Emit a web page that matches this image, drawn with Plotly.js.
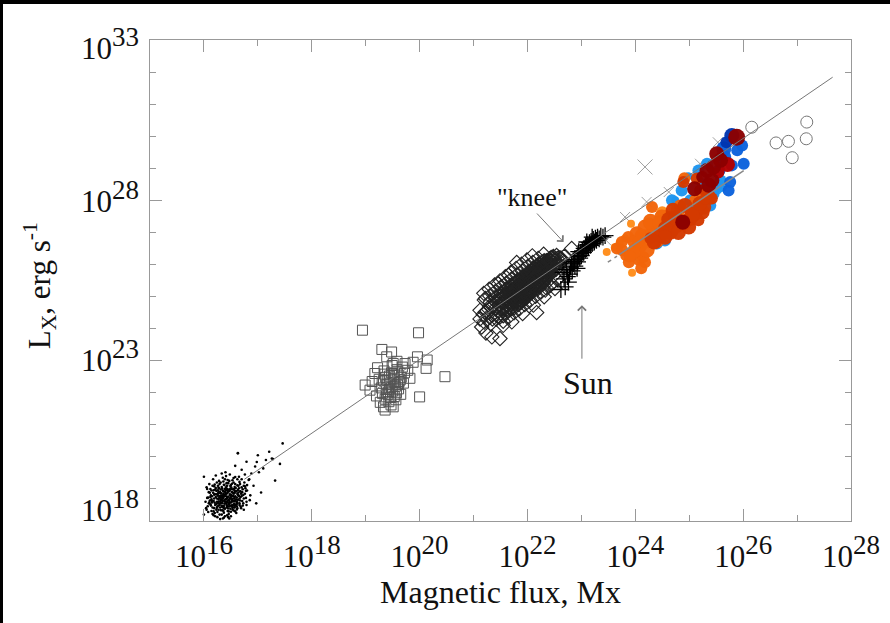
<!DOCTYPE html>
<html>
<head>
<meta charset="utf-8">
<script src="https://cdn.plot.ly/plotly-3.0.1.min.js"></script>
<style>
html,body{margin:0;padding:0;background:#000;width:890px;height:623px;overflow:hidden;}
#chart{position:absolute;left:3px;top:4px;width:887px;height:619px;background:#fff;}
</style>
</head>
<body>
<div id="chart"></div>
<script>
// ---- Data (log10 values) ----
// Quiet-Sun X-ray bright points (small dots)
const dotsLogFlux = [16.42,16.35,16.51,16.28,16.60,16.19,16.47,16.38,16.55,16.31,16.44,16.66,16.23,16.49,16.37,16.58,16.12,16.41,16.33,16.72,16.26,16.46,16.53,16.39,16.15,16.62,16.44,16.30,16.57,16.21,16.48,16.36,16.68,16.27,16.52,16.09,16.43,16.34,16.61,16.40,16.24,16.50,16.76,16.18,16.45,16.32,16.59,16.29,16.54,16.41,16.14,16.47,16.37,16.64,16.22,16.49,16.35,16.56,16.26,16.43,16.70,16.11,16.39,16.52,16.30,16.58,16.20,16.45,16.33,16.62,16.28,16.50,16.38,16.16,16.55,16.42,16.25,16.67,16.36,16.48,16.07,16.40,16.53,16.31,16.60,16.23,16.46,16.34,16.57,16.19,16.44,16.73,16.29,16.51,16.37,16.63,16.13,16.49,16.32,16.41,16.56,16.27,16.45,16.65,16.21,16.39,16.54,16.30,16.47,16.17,16.60,16.35,16.43,16.25,16.52,16.69,16.38,16.10,16.48,16.33,16.58,16.22,16.44,16.36,16.55,16.28,16.62,16.41,16.19,16.50,16.34,16.74,16.26,16.46,16.57,16.31,16.40,16.15,16.53,16.37,16.64,16.24,16.49,16.32,16.58,16.20,16.44,16.67,16.29,16.52,16.39,16.08,16.47,16.35,16.61,16.23,16.43,16.56,16.27,16.42,16.05,16.78,16.18,16.66,16.12,16.80,16.03,16.71,16.30,16.55,
16.06,16.10,16.14,16.17,16.20,16.22,16.25,16.28,16.30,16.33,16.35,16.38,16.40,16.43,16.45,16.48,16.50,16.53,16.55,16.58,16.60,16.63,16.65,16.68,16.70,16.73,16.75,16.78,16.80,16.83,16.85,16.08,16.11,16.13,16.16,16.18,16.21,16.23,16.26,16.29,16.31,16.34,16.36,16.39,16.42,16.44,16.46,16.49,16.51,16.54,16.57,16.59,16.61,16.64,16.66,16.69,16.71,16.74,16.77,16.15,16.19,16.24,16.27,16.32,16.35,16.37,16.41,16.45,16.47,16.52,16.56,16.60,16.62,16.66,16.70,16.12,16.16,16.24,16.28,16.33,16.38,16.43,16.47,16.50,16.54,16.58,16.62,16.67,16.72,16.76,16.09,16.20,16.26,16.31,16.36,16.40,16.46,16.51,16.55,16.61,16.65,16.06,16.18,16.29,16.39,16.48,16.57,16.68,16.79,16.04,16.14,16.27,16.34,16.42,16.52,16.63,16.74,
16.00,16.63,17.21,17.46,17.32,17.06,16.79,17.26,17.10,16.79,17.28,17.41,16.63,16.88,16.95,16.84,16.92,17.02,16.70,16.58,16.98,17.15,16.86,16.76,17.00,16.97,16.05,16.00];
const dotsLogLx = [18.85,18.62,19.04,18.71,18.93,18.40,18.55,19.12,18.70,18.98,18.31,19.22,18.83,18.79,18.47,19.37,18.52,19.05,18.20,18.99,19.10,18.66,18.41,18.91,18.77,18.58,19.28,18.55,18.87,18.15,18.97,18.74,18.75,18.35,19.16,18.90,18.44,19.01,18.46,18.68,18.60,18.82,19.08,18.96,18.12,18.86,19.03,18.50,18.62,19.40,18.31,18.93,18.26,18.89,19.03,18.48,18.95,18.53,18.79,18.72,19.30,18.64,18.38,18.99,18.42,18.77,18.57,19.18,18.66,19.11,18.90,18.29,18.81,18.22,18.85,18.59,18.45,18.64,19.23,18.71,18.46,18.97,18.36,18.74,18.67,18.94,18.52,18.33,19.06,18.70,18.88,18.81,19.15,18.58,18.10,18.97,18.80,19.09,18.57,18.77,18.43,18.67,18.39,19.02,18.50,19.30,18.78,18.87,18.63,18.88,18.52,18.70,19.00,18.28,18.90,18.85,18.54,18.58,18.83,19.06,18.65,18.75,18.47,18.92,19.20,18.61,18.40,18.68,19.08,18.75,18.44,18.70,18.96,18.22,18.94,18.34,18.84,18.62,18.69,19.13,18.80,18.41,19.01,18.79,18.48,18.84,18.58,18.93,18.72,18.49,18.60,18.73,19.25,18.80,18.73,18.53,18.95,18.61,19.04,18.42,18.35,18.94,18.18,18.55,19.00,19.12,18.60,18.62,18.06,19.34,
18.72,19.15,18.95,19.30,18.25,19.42,18.12,19.25,18.90,19.48,18.08,18.65,19.52,18.18,18.92,19.45,18.15,19.27,18.33,19.15,18.25,18.82,19.38,18.45,19.05,18.55,19.20,18.72,18.95,19.28,18.65,18.28,18.88,18.48,19.10,18.62,18.98,18.35,18.85,18.20,19.20,18.56,18.85,18.15,19.18,18.64,18.98,18.38,18.80,18.50,18.72,18.92,18.36,19.10,18.70,18.40,18.90,18.35,19.02,18.58,18.82,19.20,18.48,18.68,19.35,18.40,18.55,18.76,18.08,18.62,19.00,18.60,19.30,18.50,18.78,18.75,18.42,18.70,19.02,18.48,18.78,19.10,18.45,19.12,18.88,18.30,18.85,19.15,18.48,18.85,18.55,19.14,18.56,18.62,18.32,18.88,18.30,18.68,18.98,18.54,18.78,19.00,18.30,18.78,19.00,18.58,18.42,18.92,18.50,18.40,18.68,18.90,18.75,18.50,18.45,18.66,19.10,
19.38,20.11,20.16,20.42,19.26,18.89,18.60,19.95,19.64,19.85,19.93,19.78,20.12,19.48,19.70,19.30,19.10,19.52,19.60,19.72,19.84,19.90,18.80,19.45,20.05,18.55,19.05,18.20];

// Ephemeral regions (open squares)
const sqLogFlux = [18.94,19.98,20.47,20.00,19.30,19.48,19.96,20.14,20.12,19.39,19.51,19.73,19.17,18.99,19.08,19.33,19.51,19.36,19.82,
19.45,19.52,19.38,19.60,19.41,19.55,19.33,19.48,19.62,19.36,19.50,19.44,19.58,19.29,19.53,19.40,19.66,19.47,19.35,19.57,19.43,19.68,19.31,19.49,19.61,19.25,19.54,19.39,19.72,19.46,19.34,19.59,19.42,19.51,19.27,19.64,19.37,19.56,19.44,19.70,
19.20,19.78,19.22,19.65,19.88,19.12,19.47,19.58];
const sqLogLx = [23.95,23.87,22.50,21.87,23.35,23.27,23.12,23.02,22.76,23.12,22.91,22.91,22.60,22.24,22.08,21.56,21.56,21.46,22.45,
22.30,22.45,22.10,22.55,21.95,22.20,22.38,22.62,22.35,21.80,22.05,22.52,22.72,22.15,21.88,22.40,22.48,22.18,22.58,22.00,21.72,22.80,21.98,22.85,22.12,22.42,22.32,22.25,22.62,21.85,22.68,22.25,22.02,22.58,21.70,22.40,22.48,21.78,22.12,22.30,
21.90,22.70,22.78,21.95,22.95,22.35,21.62,22.98];

// Active regions (open diamonds)
const dmLogFlux = [21.12,21.15,21.18,21.20,21.22,21.25,21.28,21.30,21.32,21.35,21.37,21.40,21.42,21.44,21.46,21.48,21.50,21.52,21.54,21.55,21.57,21.58,21.60,21.61,21.63,21.64,21.66,21.67,21.69,21.70,21.71,21.73,21.74,21.75,21.77,21.78,21.79,21.80,21.81,21.82,21.84,21.85,21.86,21.87,21.88,21.89,21.90,21.91,21.92,21.93,21.94,21.95,21.96,21.97,21.98,21.99,22.00,22.01,22.02,22.03,22.04,22.05,22.06,22.07,22.08,22.09,22.10,22.11,22.12,22.13,22.14,22.15,22.16,22.17,22.18,22.19,22.20,22.21,22.22,22.23,22.24,22.25,22.26,22.27,22.28,22.29,22.30,22.31,22.32,22.33,22.34,22.35,22.36,22.37,22.38,22.39,22.40,22.42,22.43,22.44,22.45,22.47,22.48,22.50,22.52,22.53,22.55,22.57,22.59,22.62,22.65,22.68,
21.85,21.95,22.05,22.15,21.75,22.25,21.90,22.00,22.10,22.20,21.80,21.70,22.30,22.35,21.65,21.60,21.98,22.08,22.18,21.88,21.78,22.12,22.22,21.68,22.02,21.93,22.13,22.28,21.83,22.38,
21.25,21.30,21.35,21.40,21.45,21.50,21.55,21.58,21.60,21.62,21.65,21.68,21.70,21.72,21.75,21.76,21.78,21.80,21.82,21.83,21.85,21.86,21.88,21.90,21.91,21.92,21.94,21.95,21.96,21.98,22.00,22.01,22.02,22.04,22.05,22.06,22.08,22.09,22.10,22.12,22.13,22.14,22.15,22.17,22.18,22.20,22.21,22.22,22.24,22.25,22.26,22.28,22.29,22.31,22.32,22.34,22.35,22.37,22.38,22.40,22.41,22.43,22.44,22.46,22.48,22.50,22.51,22.54,22.56,22.58,21.47,21.53,21.57,21.63,21.69,21.74,21.79,21.84,21.89,21.94,21.99,22.03,22.07,22.11,22.16,22.19,22.23,22.27,22.33,22.36,21.83,21.88,21.93,21.97,22.03,22.08,22.14,22.19,22.24,22.30,
21.19,21.29,21.39,21.49,21.59,21.69,21.79,21.89,21.99,22.09,21.20,21.30,21.40,21.50,21.60,21.70,21.80,21.90,22.00,22.10,22.20,22.30,21.31,21.51,21.71,21.91,22.11,22.31,21.41,21.61,21.81,22.01,22.21,
21.55,21.71,21.91,22.11,22.31,22.51,21.55,21.75,21.95,22.15,22.35,22.55,21.65,21.85,22.05,22.25,22.45,21.49,21.69,21.89,22.09,22.29,22.49,
21.72,21.77,21.81,21.86,21.91,21.96,22.01,22.06,22.11,22.16,21.74,21.84,21.94,22.04,22.14,21.79,21.89,21.99,22.09,22.19,
22.17,21.34,21.49,21.23,22.82,21.12,21.22,22.33,22.42,21.80,21.65,21.46,22.48,22.61];
const dmLogLx = [24.30,24.05,24.45,24.20,24.52,24.28,24.60,24.35,24.15,24.70,24.45,24.62,24.30,24.85,24.55,24.75,24.48,24.92,24.65,24.40,24.82,25.05,24.70,24.95,24.55,25.12,24.85,24.68,25.02,25.20,24.80,25.08,24.92,24.65,25.25,25.00,24.85,25.35,25.15,24.95,25.28,25.05,24.80,25.42,25.20,24.98,25.32,25.12,25.50,24.95,25.38,25.22,25.05,25.55,25.30,25.15,25.45,25.62,25.25,25.08,25.50,25.35,25.70,25.18,25.58,25.40,25.28,25.75,25.48,25.62,25.32,25.85,25.55,25.40,25.72,25.60,25.45,25.90,25.68,25.52,25.80,25.62,25.95,25.48,25.75,25.88,25.65,26.02,25.78,25.58,25.92,25.72,26.05,25.85,25.68,26.10,25.95,25.80,26.12,25.98,25.75,26.08,25.90,26.15,26.00,25.85,26.18,26.05,25.95,26.20,26.10,26.25,
25.18,25.40,25.55,25.65,25.05,25.72,25.05,25.20,25.45,25.78,24.98,24.90,25.85,25.95,24.78,24.88,25.62,25.72,25.50,25.35,25.18,25.88,25.38,25.10,25.48,25.28,25.40,25.60,25.08,25.82,
24.55,24.70,24.30,24.85,24.38,25.00,24.60,24.50,25.10,24.62,25.22,24.75,24.62,25.30,24.85,25.15,24.80,25.45,25.02,24.88,25.50,25.12,24.90,25.55,25.25,25.00,25.62,25.10,25.45,25.00,25.68,25.32,25.15,25.75,25.22,25.42,25.30,25.82,25.58,25.25,25.88,25.70,25.35,25.95,25.62,25.35,26.00,25.75,25.50,26.05,25.70,25.45,26.08,25.62,25.90,25.55,26.12,25.72,26.00,25.65,26.18,25.85,26.22,25.95,26.25,25.82,26.10,26.28,25.98,26.22,24.90,24.80,25.00,24.95,25.15,25.20,25.25,25.38,25.45,25.50,25.55,25.62,25.65,25.68,25.78,25.85,25.90,25.95,26.00,25.80,24.75,24.82,24.88,25.05,25.10,25.15,25.20,25.28,25.38,25.45,
25.10,25.23,25.36,25.49,25.62,25.75,25.88,26.01,26.14,26.27,24.89,25.02,25.15,25.28,25.41,25.54,25.67,25.80,25.93,26.06,26.19,26.32,24.82,25.08,25.34,25.60,25.86,26.12,24.95,25.21,25.47,25.73,25.99,
24.10,24.21,24.47,24.73,24.99,25.25,24.23,24.49,24.75,25.01,25.27,25.53,24.36,24.62,24.88,25.14,25.40,24.36,24.62,24.88,25.14,25.40,25.66,
24.95,25.05,25.10,25.20,25.30,25.35,25.40,25.50,25.55,25.60,25.12,25.32,25.18,25.38,25.52,24.92,25.05,25.28,25.35,25.70,
24.50,23.74,23.69,23.86,26.50,24.57,24.94,25.20,25.35,26.06,25.66,25.40,26.23,26.18];

// Sun (plus signs)
const sunLogFlux = [22.62,22.70,22.68,22.74,22.72,22.78,22.80,22.76,22.83,22.85,22.88,22.90,22.87,22.93,22.95,22.97,22.99,23.00,23.02,23.04,23.05,23.07,23.08,23.10,23.12,23.13,23.15,23.17,23.18,23.20,23.22,23.24,23.26,23.28,23.30,23.33,23.36,23.40,23.44,22.92,22.82,23.10,22.95,23.20,22.66];
const sunLogLx = [25.22,25.30,25.55,25.62,25.85,25.70,25.92,25.45,25.80,26.02,25.95,26.15,26.10,26.08,26.25,26.20,26.35,26.28,26.42,26.38,26.50,26.45,26.58,26.52,26.62,26.55,26.68,26.60,26.72,26.65,26.78,26.70,26.82,26.75,26.85,26.80,26.88,26.85,26.90,25.88,26.05,26.70,26.40,26.85,25.75];

// G/K/M dwarfs (gray crosses)
const xLogFlux = [24.18,23.81,24.21,24.62,25.20,25.14,24.89,25.53,23.46];
const xLogLx   = [29.04,27.48,27.95,28.26,29.14,28.68,28.47,29.81,26.75];
const xBig     = [1,0,0,0,0,0,0,0,0];

// T Tauri stars (open circles)
const ttLogFlux = [26.16,26.61,26.84,26.91,27.18,27.17];
const ttLogLx   = [30.28,29.79,29.84,29.33,30.44,29.92];

// Colored stars, one group per colour (sizeClass: 1 small .. 4 largest)
const lightOrangeFlux = [23.47,23.94,23.92,24.09,23.71,23.81,24.77,24.50,24.28,24.46,23.62,24.02];
const lightOrangeLx   = [26.39,25.74,27.27,26.13,26.66,26.82,27.71,27.63,27.07,27.32,26.54,26.57];
const lightOrangeCls  = [1,1,1,1,1,1,2,2,1,1,1,1];

const orangeFlux = [23.66,23.87,24.03,24.18,24.24,24.15,24.06,23.97,24.31,24.49,24.09,24.37,23.76,24.18,24.28,24.65,24.42,23.96,24.83,25.11,23.88,24.57,25.20,24.91,23.83,24.11,
23.75,24.00,24.12,24.22,24.33,24.40,24.52,24.60,24.72,24.80,23.90,24.05,24.26,24.45,24.70];
const orangeLx   = [26.50,26.86,26.96,27.17,26.70,26.23,26.15,26.34,27.79,27.48,26.60,26.91,26.44,26.07,27.35,27.45,27.10,26.72,27.84,28.00,26.07,27.26,28.31,28.69,26.29,25.88,
26.70,26.45,26.88,26.45,27.05,26.75,26.95,27.20,27.30,27.55,26.25,26.70,27.28,27.30,27.05];
const orangeCls  = [2,2,3,3,2,2,2,2,2,3,3,3,2,2,3,3,3,2,2,2,2,3,2,2,2,2,
2,3,3,3,3,3,3,3,3,2,2,2,2,3,2];

const redOrangeFlux = [24.46,24.65,24.99,25.11,25.24,24.77,24.56,25.02,24.89,25.14,25.36,25.27,24.28,24.70,25.29,25.42,25.17,24.92,
24.55,24.80,24.90,25.05,24.35,24.62,25.20,25.30,24.75];
const redOrangeLx   = [26.91,27.01,27.17,27.59,27.64,27.22,27.13,27.44,28.57,28.68,28.10,27.79,26.82,27.69,28.31,28.06,27.38,27.84,
26.85,27.00,27.30,27.55,26.70,27.40,27.90,28.05,27.45];
const redOrangeCls  = [3,3,3,3,3,3,3,3,2,2,3,3,2,3,2,2,2,3,
3,3,3,3,3,3,3,2,3];

const lightBlueFlux = [25.39,24.40,24.74,25.33,25.51,24.68,24.86,25.20,23.97,25.02,25.58,25.17,24.98,25.45,25.60,25.25,24.55,25.05,25.50];
const lightBlueLx   = [27.84,26.65,28.00,29.14,28.36,28.00,28.31,27.79,26.23,28.00,28.62,28.93,28.75,28.20,28.45,28.50,26.75,27.70,28.95];
const lightBlueCls  = [2,2,1,2,2,2,2,2,1,2,2,2,1,2,2,2,2,2,1];

const blueFlux = [25.98,25.64,25.64,26.01,25.79,25.73,25.76,25.89,25.56];
const blueLx   = [29.71,29.61,29.35,29.14,29.09,28.31,28.57,29.56,28.93];
const blueCls  = [2,3,3,2,2,2,2,2,2];

const darkBlueFlux = [25.79,25.69];
const darkBlueLx   = [30.02,29.81];
const darkBlueCls  = [3,2];

const redFlux = [25.71,25.54];
const redLx   = [29.12,28.87];
const redCls  = [3,2];

const darkRedFlux = [24.88,25.10,25.33,25.45,25.51,25.88,25.42,25.36,25.58,25.24];
const darkRedLx   = [27.32,28.36,28.93,29.04,29.45,29.97,28.62,28.47,29.25,28.73];
const darkRedCls  = [3,3,3,3,3,4,3,3,3,2];

// Fitted power laws
const fitAllFlux = [16.75, 27.66];
const fitAllLx   = [19.30, 31.84];
const fitStarDashFlux = [23.49, 23.66];
const fitStarDashLx   = [26.07, 26.26];
const fitStarFlux = [23.70, 26.01];
const fitStarLx   = [26.31, 28.93];

// Axis ticks (exponents)
const xMajorExp = [16,18,20,22,24,26,28];
const xMinorExp = [17,19,21,23,25,27];
const yMajorExp = [18,23,28,33];
const yMinorExp = [19,20,21,22,24,25,26,27,29,30,31,32];

const xTitle = "Magnetic flux, Mx";
const yTitle = "L<sub>X</sub>, erg s<sup>-1</sup>";
const kneeLabel = "\"knee\"";
const sunLabel = "Sun";

// ---- Build ----
const p10 = a => a.map(v => Math.pow(10, v));
const supLabel = e => '10<sup><span style="font-size:27px">' + e + '</span></sup>';
const clsSize = c => [0, 8, 12, 15, 17][c];

function pts(fx, ly, marker) {
  return {type:'scatter', mode:'markers', x:p10(fx), y:p10(ly), marker:marker, hoverinfo:'skip'};
}
function colored(fx, ly, cls, color) {
  return pts(fx, ly, {symbol:'circle', color:color, size:cls.map(clsSize), line:{width:0}, opacity:0.97});
}

const traces = [
  pts(dotsLogFlux, dotsLogLx, {symbol:'circle', color:'#000', size:2.6, line:{width:0}}),
  pts(sqLogFlux, sqLogLx, {symbol:'square-open', color:'#555', size:10, line:{width:1}}),
  pts(dmLogFlux, dmLogLx, {symbol:'diamond-open', color:'#222', size:11, line:{width:1.1}}),
  pts(sunLogFlux, sunLogLx, {symbol:'cross-thin-open', color:'#000', size:12, line:{width:1.3, color:'#000'}}),
  pts(xLogFlux, xLogLx, {symbol:'x-thin-open', color:'#777', size:xBig.map(b => b ? 15 : 10), line:{width:1, color:'#777'}}),
  pts(ttLogFlux, ttLogLx, {symbol:'circle-open', color:'#777', size:12, line:{width:1}}),
  colored(lightBlueFlux, lightBlueLx, lightBlueCls, '#1e96f0'),
  colored(lightOrangeFlux, lightOrangeLx, lightOrangeCls, '#ff8c1a'),
  colored(orangeFlux, orangeLx, orangeCls, '#f2650a'),
  colored(redOrangeFlux, redOrangeLx, redOrangeCls, '#d43a00'),
  colored(blueFlux, blueLx, blueCls, '#0c62dc'),
  colored(darkBlueFlux, darkBlueLx, darkBlueCls, '#0035b0'),
  colored(redFlux, redLx, redCls, '#b30000'),
  colored(darkRedFlux, darkRedLx, darkRedCls, '#8b0000'),
  {type:'scatter', mode:'lines', x:p10(fitAllFlux), y:p10(fitAllLx), line:{color:'#777', width:1}, hoverinfo:'skip'},
  {type:'scatter', mode:'lines', x:p10(fitStarDashFlux), y:p10(fitStarDashLx), line:{color:'#888', width:1.5, dash:'4px,4px'}, hoverinfo:'skip'},
  {type:'scatter', mode:'lines', x:p10(fitStarFlux), y:p10(fitStarLx), line:{color:'#888', width:1.5}, hoverinfo:'skip'}
];

const axisCommon = {
  type:'log', showgrid:false, zeroline:false, showline:true, linecolor:'#999', linewidth:1,
  mirror:'ticks', ticks:'inside', tickcolor:'#999', tickwidth:1, ticklen:12
};

const serif = 'Liberation Serif, Times New Roman, serif';

const annotations = [];
const yShift = {18: 15, 23: 5, 28: 3, 33: -3.5};
yMajorExp.forEach(e => annotations.push({
  xref:'paper', yref:'y', x:0, y:e, xanchor:'right', yanchor:'middle', xshift:-9, yshift:yShift[e],
  text:supLabel(e), showarrow:false, font:{family:serif, size:31, color:'#111'}
}));
annotations.push({xref:'paper', yref:'paper', x:-0.157, y:0.49, textangle:-90, text:yTitle,
  showarrow:false, font:{family:serif, size:31, color:'#111'}, xanchor:'center', yanchor:'middle'});
annotations.push({xref:'x', yref:'y', x:22.09, y:28.09, text:kneeLabel, showarrow:false,
  font:{family:serif, size:26, color:'#111'}});
annotations.push({xref:'x', yref:'y', x:23.13, y:22.30, text:sunLabel, showarrow:false,
  font:{family:serif, size:32, color:'#111'}});
annotations.push({xref:'x', yref:'y', x:22.67, y:26.70, ax:-28, ay:-30, text:'', showarrow:true,
  arrowhead:4, arrowsize:1.6, arrowwidth:1, arrowcolor:'#777'});
annotations.push({xref:'x', yref:'y', x:23.01, y:24.73, ax:0, ay:55, text:'', showarrow:true,
  arrowhead:4, arrowsize:1.6, arrowwidth:1, arrowcolor:'#777'});

const layout = {
  width:887, height:619,
  margin:{l:147, r:39, t:36, b:102},
  paper_bgcolor:'#fff', plot_bgcolor:'#fff',
  showlegend:false, hovermode:false,
  font:{family:serif, color:'#111'},
  xaxis: Object.assign({}, axisCommon, {
    range:[15, 28],
    tickmode:'array', tickvals:p10(xMajorExp), ticktext:xMajorExp.map(supLabel),
    tickfont:{family:serif, size:31, color:'#111'}, ticklabelstandoff:8,
    minor:{tickmode:'array', tickvals:p10(xMinorExp), ticks:'inside', ticklen:6, tickcolor:'#999', tickwidth:1},
    title:{text:xTitle, font:{family:serif, size:32, color:'#111'}, standoff:2}
  }),
  yaxis: Object.assign({}, axisCommon, {
    range:[18, 33],
    tickmode:'array', tickvals:p10(yMajorExp), showticklabels:false,
    minor:{tickmode:'array', tickvals:p10(yMinorExp), ticks:'inside', ticklen:6, tickcolor:'#999', tickwidth:1}
  }),
  annotations:annotations
};

Plotly.newPlot('chart', traces, layout, {staticPlot:true, displayModeBar:false});
</script>
</body>
</html>
